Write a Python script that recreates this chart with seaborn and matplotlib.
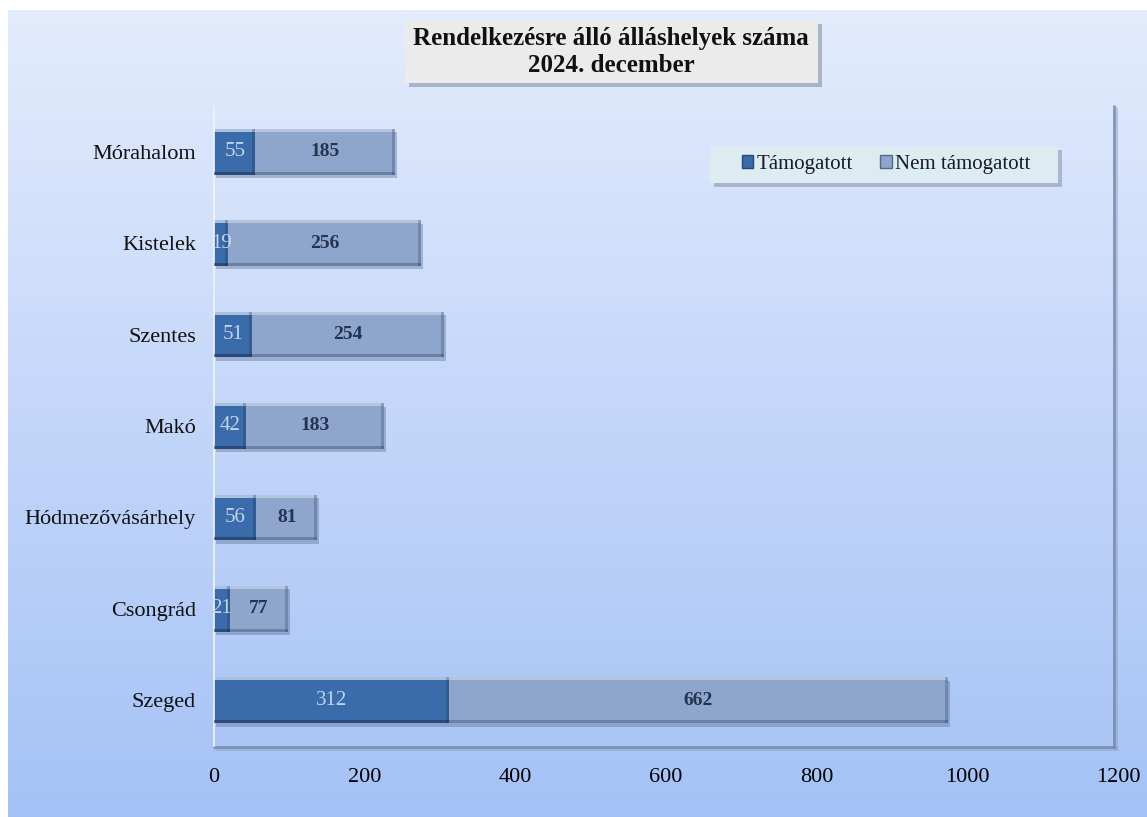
import numpy as np
import pandas as pd
import matplotlib
matplotlib.use("Agg")
import matplotlib.pyplot as plt
import matplotlib.patheffects as pe
from matplotlib.patches import Rectangle
import seaborn as sns

categories = ["Mórahalom", "Kistelek", "Szentes", "Makó", "Hódmezővásárhely", "Csongrád", "Szeged"]
tamogatott = [55, 19, 51, 42, 56, 21, 312]
nem_tamogatott = [185, 256, 254, 183, 81, 77, 662]
x_ticks = [0, 200, 400, 600, 800, 1000, 1200]
title_lines = ["Rendelkezésre álló álláshelyek száma", "2024. december"]
series_names = ["Támogatott", "Nem támogatott"]

sns.set_theme(style="white")
plt.rcParams['font.family'] = ['Liberation Serif', 'DejaVu Serif']

W, H = 1147, 817
fig = plt.figure(figsize=(W / 100, H / 100), dpi=100)
fig.patch.set_facecolor("white")

# background gradient
bg = fig.add_axes([8 / W, 0, 1 - 8 / W, 1 - 10 / H], zorder=0)
grad = np.linspace(0, 1, 256).reshape(-1, 1)
top = np.array([0.89, 0.925, 0.99])
bot = np.array([0.645, 0.76, 0.965])
img = top[None, None, :] * (1 - grad[:, :, None]) + bot[None, None, :] * grad[:, :, None]
bg.imshow(img, aspect="auto", extent=[0, 1, 0, 1], origin="upper")
bg.set_axis_off()

df = pd.DataFrame({"cat": categories, "t": tamogatott, "n": nem_tamogatott})
df["total"] = df["t"] + df["n"]

x0, x1 = 214, 1118
yb, yt = 746, 106
ax = fig.add_axes([x0 / W, (H - yb) / H, (x1 - x0) / W, (yb - yt) / H], zorder=2)
ax.patch.set_alpha(0)

light = "#8ea6cc"
dark = "#3a6cab"
sns.barplot(data=df, y="cat", x="total", color=light, orient="h", width=0.5,
            saturation=1, ax=ax, order=categories)
sns.barplot(data=df, y="cat", x="t", color=dark, orient="h", width=0.5,
            saturation=1, ax=ax, order=categories)

n_cat = len(categories)
px_x = 1200 / (x1 - x0)          # data units per pixel (x)
px_y = 7 / (yb - yt)             # data units per pixel (y)
for k, p in enumerate(list(ax.patches)):
    p.set_edgecolor("none")
    x, y, w, h = p.get_x(), p.get_y(), p.get_width(), p.get_height()
    if k < n_cat:
        p.set_path_effects([pe.SimplePatchShadow(offset=(1.5, -2.5), shadow_rgbFace="#4d5f85", alpha=0.35),
                            pe.Normal()])
    # top highlight
    ax.add_patch(Rectangle((x, y), w, 3 * px_y, facecolor="white", alpha=0.35,
                           edgecolor="none", zorder=3))
    # bottom dark edge
    ax.add_patch(Rectangle((x, y + h - 3 * px_y), w, 3 * px_y, facecolor="#1d2c4a", alpha=0.3,
                           edgecolor="none", zorder=3))
    # right bevel
    ax.add_patch(Rectangle((x + w - 3 * px_x, y), 3 * px_x, h, facecolor="#1d2c4a", alpha=0.25,
                           edgecolor="none", zorder=3))

for i, (t, n) in enumerate(zip(tamogatott, nem_tamogatott)):
    ax.text(t / 2, i, str(t), ha="center", va="center", color="#c6d4ea", fontsize=15, zorder=5)
    ax.text(t + n / 2, i, str(n), ha="center", va="center", color="#24334f", fontsize=14,
            fontweight="bold", zorder=5)

ax.set_xlim(0, 1200)
ax.set_ylim(6.5, -0.5)
ax.set_xticks(x_ticks)
ax.set_xticklabels([str(v) for v in x_ticks], fontsize=16, color="black")
ax.set_yticks(range(n_cat))
ax.set_yticklabels(categories, fontsize=16, color="#111111")
ax.tick_params(axis="x", pad=16, length=0)
ax.tick_params(axis="y", pad=13, length=0)
ax.set_xlabel("")
ax.set_ylabel("")
for s in ["top", "right", "bottom"]:
    ax.spines[s].set_visible(False)
ax.spines["left"].set_color("#f2f5fb")
ax.spines["left"].set_linewidth(1.2)

# 3D floor and wall shadow
fx = fig.add_axes([0, 0, 1, 1], zorder=1)
fx.set_xlim(0, W)
fx.set_ylim(H, 0)
fx.set_axis_off()
fx.patch.set_alpha(0)
fx.plot([x0, 1115], [yb + 1, yb + 1], color="#7486a8", lw=2, alpha=0.85)
fx.plot([x0 + 2, 1117], [yb + 3, yb + 3], color="#8b9dc0", lw=2, alpha=0.5)
fx.plot([1114, 1114], [yt, yb + 1], color="#7486a8", lw=2, alpha=0.85)
fx.plot([1116, 1116], [yt + 2, yb + 3], color="#8b9dc0", lw=2, alpha=0.5)

# title box
tb = fig.add_axes([0, 0, 1, 1], zorder=4)
tb.set_xlim(0, W)
tb.set_ylim(H, 0)
tb.set_axis_off()
tb.patch.set_alpha(0)
tb.add_patch(Rectangle((409, 24), 413, 63, facecolor="#5a6680", alpha=0.4, edgecolor="none"))
tb.add_patch(Rectangle((405, 20), 413, 63, facecolor="#ebebeb", edgecolor="none"))
tb.text(611, 38, title_lines[0], ha="center", va="center", fontsize=18, fontweight="bold", color="#111111")
tb.text(611, 65, title_lines[1], ha="center", va="center", fontsize=18, fontweight="bold", color="#111111")

# legend box
tb.add_patch(Rectangle((714, 150), 348, 37, facecolor="#5a6680", alpha=0.35, edgecolor="none"))
tb.add_patch(Rectangle((710, 146), 348, 37, facecolor="#dcecf1", edgecolor="none"))
handles = [Rectangle((0, 0), 1, 1, facecolor=dark, edgecolor="#24477a"),
           Rectangle((0, 0), 1, 1, facecolor=light, edgecolor="#55688c")]
leg = tb.legend(handles, series_names, loc="center", bbox_to_anchor=(886 / W, 1 - 164.5 / H),
                bbox_transform=fig.transFigure, ncol=2, frameon=False, fontsize=15,
                handlelength=0.55, handleheight=0.55, handletextpad=0.15, columnspacing=1.3)
for t in leg.get_texts():
    t.set_color("#1a1a2e")

fig.savefig("out.png", dpi=100)
